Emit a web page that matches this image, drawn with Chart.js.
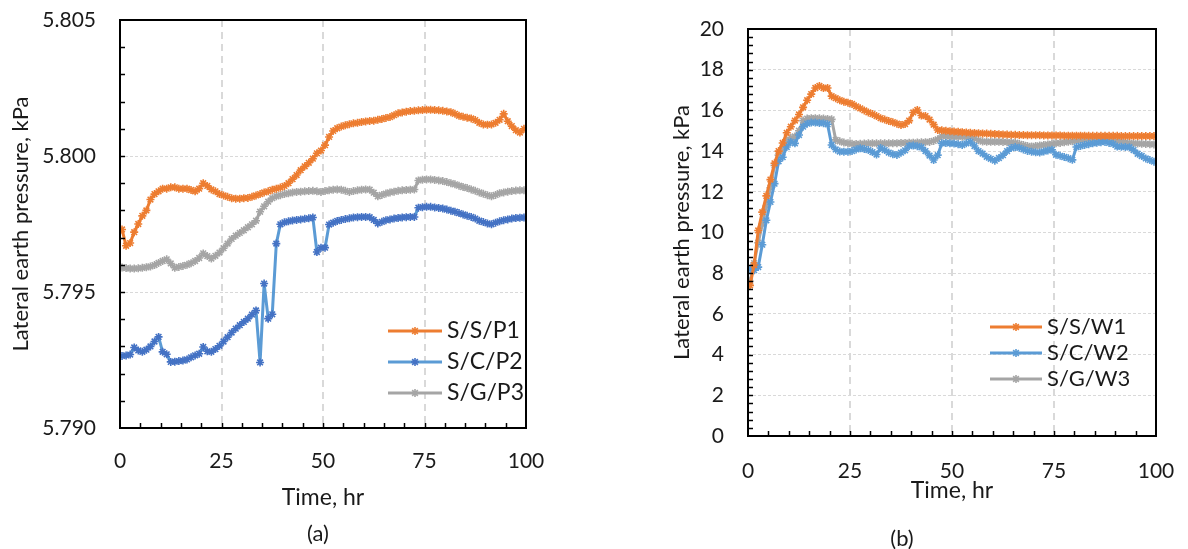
<!DOCTYPE html>
<html>
<head>
<meta charset="utf-8">
<script src="https://cdn.jsdelivr.net/npm/chart.js@4.4.1/dist/chart.umd.min.js"></script>
<style>
  html, body { margin: 0; padding: 0; background: #fff; }
  #wrap { position: relative; width: 1188px; height: 549px; overflow: hidden; }
  canvas { position: absolute; top: 0; }
  #cA { left: 0; }
  #cB { left: 594px; }
  .cap { position: absolute; font: 22px Lato, sans-serif; color: #1a1a1a; transform: translate(-50%, -50%); }
</style>
</head>
<body>
<div id="wrap">
  <canvas id="cA" width="594" height="549"></canvas>
  <canvas id="cB" width="594" height="549"></canvas>
  <div class="cap" style="left:318px;top:532px">(a)</div>
  <div class="cap" style="left:902px;top:537px">(b)</div>
</div>
<script>
// elapsed time of each reading, hr
const hours = [
  0.5,1.5,2.5,3.5,4.5,5.5,6.5,7.5,8.5,9.5,
  10.5,11.5,12.5,13.5,14.5,15.5,16.5,17.5,18.5,19.5,
  20.5,21.5,22.5,23.5,24.5,25.5,26.5,27.5,28.5,29.5,
  30.5,31.5,32.5,33.5,34.5,35.5,36.5,37.5,38.5,39.5,
  40.5,41.5,42.5,43.5,44.5,45.5,46.5,47.5,48.5,49.5,
  50.5,51.5,52.5,53.5,54.5,55.5,56.5,57.5,58.5,59.5,
  60.5,61.5,62.5,63.5,64.5,65.5,66.5,67.5,68.5,69.5,
  70.5,71.5,72.5,73.5,74.5,75.5,76.5,77.5,78.5,79.5,
  80.5,81.5,82.5,83.5,84.5,85.5,86.5,87.5,88.5,89.5,
  90.5,91.5,92.5,93.5,94.5,95.5,96.5,97.5,98.5,99.5
];

// (a) lateral earth pressure, kPa
const ssP1 = [
  5.7973,5.7967,5.7968,5.7972,5.7975,5.7978,5.7980,5.7984,5.7986,5.7987,
  5.7988,5.7988,5.79885,5.79885,5.7988,5.7988,5.7988,5.79875,5.7987,5.7988,
  5.7990,5.7989,5.79877,5.7987,5.7986,5.79855,5.7985,5.79845,5.79843,5.79843,
  5.79845,5.79846,5.7985,5.79855,5.7986,5.79866,5.7987,5.79876,5.7988,5.79884,
  5.7989,5.7990,5.79915,5.7993,5.79948,5.79962,5.79975,5.7999,5.8001,5.8002,
  5.8004,5.8007,5.80092,5.80102,5.80108,5.80113,5.80117,5.8012,5.80122,5.80125,
  5.80127,5.80129,5.8013,5.80133,5.80136,5.8014,5.80143,5.8015,5.80157,5.8016,
  5.80163,5.80165,5.80166,5.80168,5.80169,5.8017,5.8017,5.80169,5.80168,5.80166,
  5.80164,5.80161,5.80155,5.80148,5.80144,5.80141,5.80138,5.80132,5.80122,5.80116,
  5.80115,5.80116,5.80122,5.80133,5.80155,5.80128,5.8011,5.80095,5.80086,5.801
];
const scP2 = [
  5.79265,5.79267,5.7927,5.79296,5.79285,5.7928,5.79288,5.793,5.79318,5.79335,
  5.7928,5.79271,5.79243,5.79244,5.79246,5.79248,5.79252,5.7926,5.79267,5.79273,
  5.79298,5.79282,5.7928,5.7929,5.79302,5.79318,5.79334,5.79351,5.79365,5.79378,
  5.7939,5.79402,5.79417,5.79432,5.79241,5.79531,5.79402,5.79418,5.79678,5.79749,
  5.79756,5.7976,5.79763,5.79765,5.79767,5.79769,5.79771,5.79774,5.79647,5.79663,
  5.79663,5.79748,5.79755,5.79761,5.79765,5.79768,5.79771,5.79774,5.79775,5.79776,
  5.79776,5.79775,5.79765,5.79752,5.79758,5.79764,5.79767,5.7977,5.79772,5.79774,
  5.79775,5.79776,5.79776,5.7981,5.79812,5.79813,5.79813,5.79811,5.79809,5.79807,
  5.79803,5.79799,5.79795,5.7979,5.79785,5.7978,5.79776,5.7977,5.79762,5.79757,
  5.79752,5.79749,5.79755,5.7976,5.79764,5.79767,5.7977,5.79772,5.79773,5.79774
];
const sgP3 = [
  5.7959,5.79588,5.79586,5.79586,5.79587,5.79589,5.79591,5.79594,5.79599,5.79607,
  5.79614,5.7962,5.79605,5.79589,5.79592,5.79596,5.796,5.79606,5.79614,5.79625,
  5.79642,5.79632,5.79623,5.79633,5.79645,5.79661,5.79678,5.79695,5.79707,5.79717,
  5.79727,5.79738,5.79749,5.79762,5.79795,5.79815,5.79832,5.79845,5.79852,5.79856,
  5.7986,5.79863,5.79866,5.79868,5.79869,5.7987,5.79871,5.79872,5.7987,5.79868,
  5.79871,5.79874,5.79876,5.79877,5.79876,5.79872,5.79868,5.79871,5.79874,5.79876,
  5.79877,5.79876,5.79865,5.79852,5.79857,5.79862,5.79866,5.79869,5.79872,5.79874,
  5.79875,5.79876,5.79877,5.7991,5.79913,5.79914,5.79914,5.79912,5.7991,5.79908,
  5.79904,5.799,5.79896,5.79891,5.79886,5.79882,5.79877,5.79872,5.79866,5.79861,
  5.79856,5.79852,5.79857,5.79863,5.79866,5.79869,5.79871,5.79873,5.79874,5.79874
];

// (b) lateral earth pressure, kPa
const ssW1 = [
  7.4,8.4,10.1,11.0,11.8,12.6,13.4,14.0,14.4,14.9,
  15.2,15.5,15.8,16.15,16.5,16.8,17.1,17.2,17.1,17.1,
  16.7,16.6,16.5,16.43,16.38,16.32,16.2,16.1,16.0,15.9,
  15.82,15.72,15.62,15.55,15.48,15.42,15.35,15.28,15.33,15.5,
  15.9,16.02,15.75,15.72,15.55,15.3,15.04,15.02,15.0,14.98,
  14.96,14.95,14.93,14.92,14.9,14.89,14.88,14.87,14.86,14.85,
  14.84,14.83,14.82,14.81,14.8,14.8,14.79,14.79,14.78,14.78,
  14.78,14.78,14.77,14.77,14.77,14.77,14.77,14.76,14.76,14.76,
  14.76,14.76,14.76,14.75,14.75,14.75,14.75,14.75,14.75,14.75,
  14.75,14.74,14.74,14.74,14.74,14.74,14.74,14.74,14.74,14.74
];
const scW2 = [
  8.2,8.15,8.3,9.4,10.6,11.5,12.4,13.5,13.7,14.2,
  14.45,14.38,14.79,15.2,15.35,15.4,15.4,15.38,15.37,15.32,
  14.3,14.08,13.98,13.97,13.97,14.0,14.08,14.14,14.1,14.05,
  13.95,13.83,14.15,14.05,13.93,13.85,13.81,13.92,14.04,14.25,
  14.28,14.24,14.19,14.0,13.78,13.56,13.8,14.38,14.4,14.38,
  14.37,14.34,14.3,14.38,14.45,14.25,14.0,13.88,13.72,13.62,
  13.53,13.66,13.8,14.0,14.15,14.2,14.16,14.08,14.01,13.97,
  13.94,13.93,13.98,14.03,14.07,13.82,13.77,13.71,13.65,13.57,
  14.2,14.25,14.3,14.34,14.38,14.41,14.44,14.45,14.4,14.35,
  14.22,14.21,14.2,14.19,14.05,13.87,13.76,13.64,13.56,13.48
];
const sgW3 = [
  7.6,8.5,9.5,10.4,11.3,12.2,13.3,13.8,14.1,14.5,
  14.65,14.72,15.0,15.5,15.6,15.62,15.62,15.61,15.6,15.58,
  15.56,14.55,14.48,14.42,14.39,14.36,14.35,14.36,14.37,14.38,
  14.38,14.38,14.38,14.38,14.38,14.39,14.39,14.4,14.4,14.41,
  14.41,14.42,14.43,14.44,14.45,14.5,14.58,14.74,14.73,14.72,
  14.71,14.71,14.71,14.71,14.7,14.62,14.53,14.47,14.46,14.46,
  14.46,14.46,14.45,14.44,14.43,14.41,14.36,14.3,14.25,14.22,
  14.25,14.28,14.3,14.33,14.36,14.38,14.4,14.43,14.46,14.49,
  14.51,14.53,14.56,14.58,14.61,14.63,14.66,14.68,14.62,14.56,
  14.51,14.47,14.44,14.4,14.38,14.37,14.36,14.35,14.34,14.33
];

const xTicks = [0, 25, 50, 75, 100];
const yTicksA = [5.790, 5.795, 5.800, 5.805];
const yTicksB = [0, 2, 4, 6, 8, 10, 12, 14, 16, 18, 20];

const FONT = 'Lato, "Open Sans", sans-serif';
const TXT = '#1a1a1a';
const ORANGE = '#ED7D31', BLUE = '#5B9BD5', DKBLUE = '#4472C4', GREY = '#A5A5A5';
const MARK = { pointStyle: 'star', radius: 4, rotation: 0, borderWidth: 1.6 };

const pts = vals => hours.map((h, i) => ({ x: h, y: vals[i] }));

function series(label, vals, line, marker) {
  return {
    label, data: pts(vals),
    borderColor: line, borderWidth: 3, tension: 0,
    pointStyle: MARK.pointStyle, pointRadius: MARK.radius, pointBorderWidth: MARK.borderWidth,
    pointBorderColor: marker, pointBackgroundColor: marker
  };
}

// grid lines only between the frame edges
const inner = (lo, hi, col) => c =>
  (c.tick && (Math.abs(c.tick.value - lo) < 1e-9 || Math.abs(c.tick.value - hi) < 1e-9)) ? 'rgba(0,0,0,0)' : col;

// frame, inward minor ticks and a legend drawn inside the plot
const decor = {
  id: 'decor',
  afterDraw(chart, args, o) {
    const { ctx, chartArea: a, scales: { x, y } } = chart;
    ctx.save();
    ctx.strokeStyle = '#000';
    ctx.lineWidth = 1.5;
    const nx = Math.round((x.max - x.min) / o.minorX);
    for (let i = 1; i < nx; i++) {
      const px = Math.round(x.getPixelForValue(x.min + i * o.minorX)) + 0.5;
      ctx.beginPath(); ctx.moveTo(px, a.bottom); ctx.lineTo(px, a.bottom - 5); ctx.stroke();
    }
    const ny = Math.round((y.max - y.min) / o.minorY);
    for (let i = 1; i < ny; i++) {
      const py = Math.round(y.getPixelForValue(y.min + i * o.minorY)) + 0.5;
      ctx.beginPath(); ctx.moveTo(a.left, py); ctx.lineTo(a.left + 5, py); ctx.stroke();
    }
    ctx.lineWidth = 2;
    ctx.strokeRect(a.left, a.top, a.right - a.left, a.bottom - a.top);

    const L = o.legend;
    ctx.font = L.size + 'px ' + FONT;
    ctx.textBaseline = 'middle';
    chart.data.datasets.forEach((ds, i) => {
      const yy = L.y + i * L.dy;
      ctx.strokeStyle = ds.borderColor; ctx.lineWidth = 3;
      ctx.beginPath(); ctx.moveTo(L.x, yy); ctx.lineTo(L.x + L.len, yy); ctx.stroke();
      ctx.strokeStyle = ds.pointBorderColor; ctx.lineWidth = MARK.borderWidth;
      Chart.helpers.drawPoint(ctx, MARK, L.x + L.len / 2, yy);
      ctx.fillStyle = TXT;
      ctx.fillText(ds.label, L.x + L.len + L.gap, yy);
    });
    ctx.restore();
  }
};

function makeChart(id, cfg) {
  return new Chart(document.getElementById(id), {
    type: 'line',
    data: { datasets: cfg.datasets },
    plugins: [decor],
    options: {
      responsive: false, animation: false,
      layout: { padding: { left: 0, top: cfg.top, right: cfg.right, bottom: 0 } },
      plugins: { legend: { display: false }, tooltip: { enabled: false }, decor: cfg.decor },
      scales: {
        x: {
          type: 'linear', min: 0, max: 100,
          afterBuildTicks: s => { s.ticks = xTicks.map(v => ({ value: v })); },
          ticks: { padding: cfg.xPad, color: TXT, font: { family: FONT, size: 21 }, maxRotation: 0, autoSkip: false },
          grid: { color: inner(0, 100, '#d9d9d9'), lineWidth: 2, drawTicks: false },
          border: { display: false, dash: [7, 5] },
          title: { display: true, text: 'Time, hr', color: TXT, font: { family: FONT, size: 23 }, padding: { top: 0, bottom: cfg.xTitleBottom } },
          afterFit: s => { s.height = cfg.xHeight; s.paddingLeft = 0; s.paddingRight = 0; }
        },
        y: {
          min: cfg.yMin, max: cfg.yMax,
          afterBuildTicks: s => { s.ticks = cfg.yTicks.map(v => ({ value: v })); },
          ticks: { padding: 24, color: TXT, font: { family: FONT, size: 21 }, callback: cfg.yFmt },
          grid: { color: inner(cfg.yMin, cfg.yMax, '#d9d9d9'), lineWidth: 1, drawTicks: false },
          border: { display: false, dash: [3, 2] },
          title: { display: true, text: 'Lateral earth pressure, kPa', color: TXT, font: { family: FONT, size: 22 }, padding: { top: cfg.yTitleTop, bottom: 0 } },
          afterFit: s => { s.width = cfg.yWidth; s.paddingTop = 0; s.paddingBottom = 0; }
        }
      }
    }
  });
}

makeChart('cA', {
  datasets: [
    series('S/S/P1', ssP1, ORANGE, ORANGE),
    series('S/C/P2', scP2, BLUE, DKBLUE),
    series('S/G/P3', sgP3, GREY, GREY)
  ],
  top: 20, right: 68, yWidth: 120, xHeight: 121, xPad: 21, xTitleBottom: 38, yTitleTop: 8,
  yMin: 5.790, yMax: 5.805, yTicks: yTicksA, yFmt: v => v.toFixed(3),
  decor: { minorX: 5, minorY: 0.001, legend: { x: 388, y: 331, dy: 31, len: 54, gap: 5, size: 23 } }
});

makeChart('cB', {
  datasets: [
    series('S/S/W1', ssW1, ORANGE, ORANGE),
    series('S/C/W2', scW2, BLUE, BLUE),
    series('S/G/W3', sgW3, GREY, GREY)
  ],
  top: 29, right: 32, yWidth: 154, xHeight: 113, xPad: 23, xTitleBottom: 45, yTitleTop: 75,
  yMin: 0, yMax: 20, yTicks: yTicksB, yFmt: v => String(v),
  decor: { minorX: 5, minorY: 0.4, legend: { x: 396, y: 327, dy: 26, len: 52, gap: 5, size: 22 } }
});
</script>
</body>
</html>
